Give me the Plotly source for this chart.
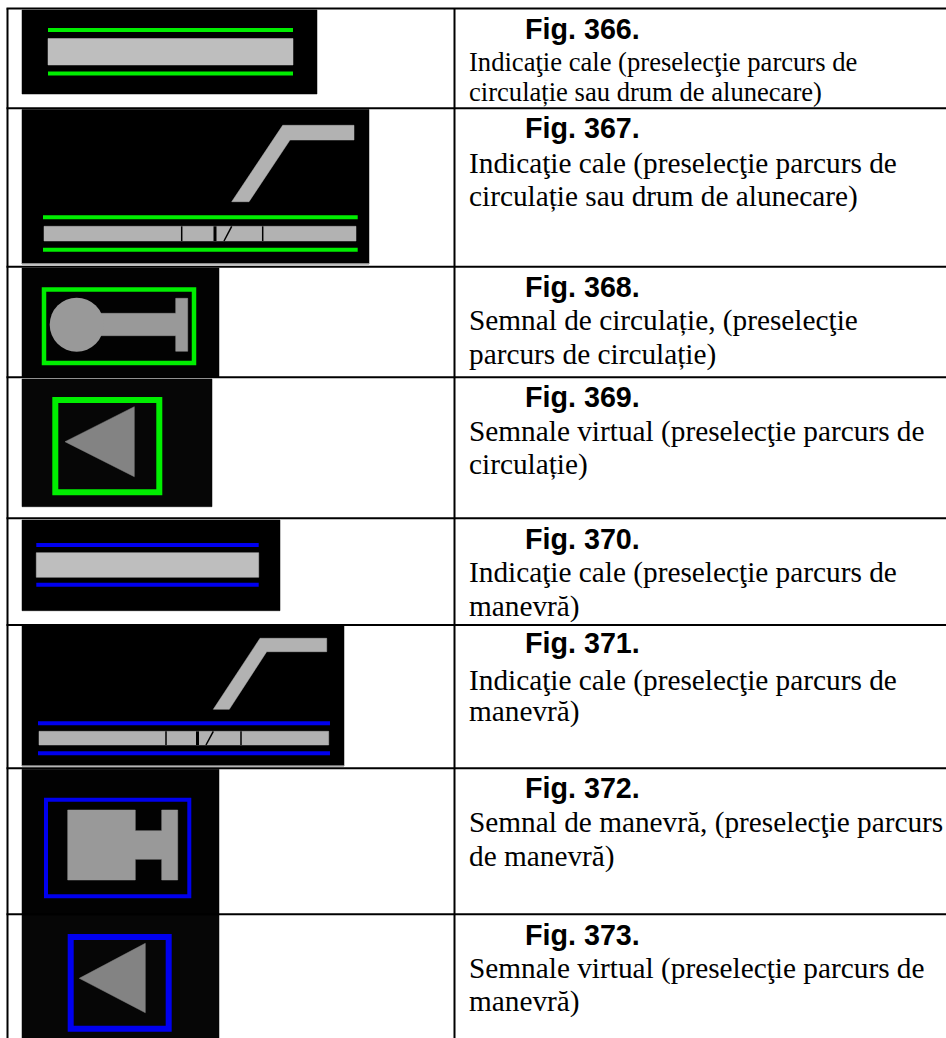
import plotly.graph_objects as go

W, H = 946, 1038
BLACK, GREEN, BLUE = "#000000", "#00ee00", "#0000ee"
L_GRAY, M_GRAY, D_GRAY, S_GRAY = "#bebebe", "#999999", "#838383", "#b2b2b2"

# ---- table rules (page pixel coordinates) ----
table_vlines_x = [7.5, 454.5]
table_hlines_y = [8.5, 108.3, 266.7, 377.3, 518.3, 625, 768.3, 914.3]

# ---- captions ----
fig_titles = ["Fig. 366.", "Fig. 367.", "Fig. 368.", "Fig. 369.", "Fig. 370.", "Fig. 371.", "Fig. 372.", "Fig. 373."]
fig_title_base = [39, 138, 297.3, 407.3, 549.3, 653.3, 798.3, 945]
captions = [
    ["Indicaţie cale (preselecţie parcurs de", "circulație sau drum de alunecare)"],
    ["Indicaţie cale (preselecţie parcurs de", "circulație sau drum de alunecare)"],
    ["Semnal de circulație, (preselecţie", "parcurs de circulație)"],
    ["Semnale virtual (preselecţie parcurs de", "circulație)"],
    ["Indicaţie cale (preselecţie parcurs de", "manevră)"],
    ["Indicaţie cale (preselecţie parcurs de", "manevră)"],
    ["Semnal de manevră, (preselecţie parcurs", "de manevră)"],
    ["Semnale virtual (preselecţie parcurs de", "manevră)"],
]
caption_base = [[70.7, 101], [173, 206], [330.7, 364], [441.7, 474.3], [582.7, 616.7], [690, 721.7], [832.7, 866.7], [978.3, 1011.7]]
caption_size = [26.6, 29.3, 29.3, 29.3, 29.3, 29.3, 29.3, 29.3]

# ---- black picture backgrounds: x0, x1, y0, y1 ----
panel_x0 = [22, 22, 22, 22, 22, 22, 22, 22]
panel_x1 = [317, 369, 219, 212, 280, 344, 219, 219]
panel_y0 = [10, 109.5, 268, 379, 520, 625.7, 769.3, 915]
panel_y1 = [94, 264, 377, 506.7, 610.7, 766, 914, 1038]
panel_col = ["#000000", "#000000", "#020202", "#060606", "#000000", "#000000", "#020202", "#060606"]

# ---- faint scan edge under the two switch pictures ----
edge_x = [[22, 369], [22, 344]]
edge_y = [263.5, 765.7]

# ---- track lines ----
rail_x = [[48, 293], [43, 357.7], [36.3, 258.7], [38, 330]]
rail_y = [[30, 73.5], [217.3, 249.7], [545, 584.7], [723.3, 753.3]]
rail_col = [GREEN, GREEN, BLUE, BLUE]

# ---- plain track bars ----
bar1_x = [48, 293, 293, 48, 48]
bar1_y = [38.5, 38.5, 65, 65, 38.5]
bar5_x = [36.3, 258.7, 258.7, 36.3, 36.3]
bar5_y = [552.7, 552.7, 577.3, 577.3, 552.7]

# ---- switch branches ----
branch2_x = [231.7, 249, 290, 354, 354, 282.7, 231.7]
branch2_y = [201.7, 201.7, 140, 140, 125.3, 125.3, 201.7]
branch6_x = [213.3, 229.3, 266.7, 326.7, 326.7, 260, 213.3]
branch6_y = [709.3, 709.3, 651.7, 651.7, 638.3, 638.3, 709.3]

# ---- segmented strips ----
strip2_x = [44, 356, 356, 44, 44]
strip2_y = [226.3, 226.3, 241, 241, 226.3]
strip2_div = [181.7, 215, 262.7]
strip2_div_w = [1.5, 3, 1.5]
strip2_slash_x = [231.7, 224]
strip2_slash_y = [226.3, 241]
strip6_x = [39, 328.7, 328.7, 39, 39]
strip6_y = [731.3, 731.3, 745, 745, 731.3]
strip6_div = [166, 197.5, 241]
strip6_div_w = [1.5, 3, 1.5]
strip6_slash_x = [213.3, 206]
strip6_slash_y = [731.3, 745]

# ---- signal frames: centre line of the square ----
frame_x = [[44, 194], [55.3, 159.3], [46, 189.3], [70.7, 168.7]]
frame_y = [[289.5, 363], [400, 492.3], [799.7, 896.3], [937, 1028.7]]
frame_w = [4.5, 6, 4, 6]
frame_col = [GREEN, GREEN, BLUE, BLUE]

# ---- signal symbols ----
sig3_x = [175.7, 175.7, 187.7, 187.7, 175.7, 175.7, 76.7, 76.7, 175.7]
sig3_y = [313.3, 298.3, 298.3, 351.3, 351.3, 335.7, 335.7, 313.3, 313.3]
sig3_circle_x = [76.7]
sig3_circle_y = [324.7]
sig4_x = [65, 134.3, 134.3, 65]
sig4_y = [441.7, 406.7, 476.7, 441.7]
sig7_x = [67.7, 135.3, 135.3, 161.7, 161.7, 177.7, 177.7, 161.7, 161.7, 135.3, 135.3, 67.7, 67.7]
sig7_y = [810, 810, 830.7, 830.7, 810, 810, 880, 880, 859.3, 859.3, 880, 880, 810]
sig8_x = [79.3, 145.3, 145.3, 79.3]
sig8_y = [978.3, 943.3, 1012.7, 978.3]

fig = go.Figure()


def poly(x, y, color):
    fig.add_trace(go.Scatter(x=x, y=y, mode="lines", fill="toself", fillcolor=color,
                             line=dict(color=color, width=0.5), hoverinfo="skip"))


def line(x, y, color, width):
    fig.add_trace(go.Scatter(x=x, y=y, mode="lines", line=dict(color=color, width=width), hoverinfo="skip"))


# panels
for x0, x1, y0, y1, c in zip(panel_x0, panel_x1, panel_y0, panel_y1, panel_col):
    poly([x0, x1, x1, x0, x0], [y0, y0, y1, y1, y0], c)
for xs, y in zip(edge_x, edge_y):
    line(xs, [y, y], "#8a8a8a", 1)

# rails
for xs, ys, c in zip(rail_x, rail_y, rail_col):
    for y in ys:
        line(xs, [y, y], c, 4)

# bars and branches
poly(bar1_x, bar1_y, L_GRAY)
poly(bar5_x, bar5_y, L_GRAY)
poly(branch2_x, branch2_y, S_GRAY)
poly(branch6_x, branch6_y, S_GRAY)
poly(strip2_x, strip2_y, S_GRAY)
poly(strip6_x, strip6_y, S_GRAY)
for d, w in zip(strip2_div, strip2_div_w):
    line([d, d], strip2_y[1:3], BLACK, w)
line(strip2_slash_x, strip2_slash_y, BLACK, 1.5)
for d, w in zip(strip6_div, strip6_div_w):
    line([d, d], strip6_y[1:3], BLACK, w)
line(strip6_slash_x, strip6_slash_y, BLACK, 1.5)

# frames
for xs, ys, w, c in zip(frame_x, frame_y, frame_w, frame_col):
    line([xs[0], xs[1], xs[1], xs[0], xs[0], xs[1]], [ys[0], ys[0], ys[1], ys[1], ys[0], ys[0]], c, w)

# signals
poly(sig3_x, sig3_y, M_GRAY)
fig.add_trace(go.Scatter(x=sig3_circle_x, y=sig3_circle_y, mode="markers", hoverinfo="skip",
                         marker=dict(symbol="circle", size=54, color=M_GRAY, line=dict(width=0))))
poly(sig4_x, sig4_y, D_GRAY)
poly(sig7_x, sig7_y, M_GRAY)
poly(sig8_x, sig8_y, D_GRAY)

# table rules
for y in table_hlines_y:
    line([table_vlines_x[0] - 1, W], [y, y], BLACK, 2)
for x in table_vlines_x:
    line([x, x], [table_hlines_y[0], H], BLACK, 2)

annotations = []
for t, tb, lines, bs, size in zip(fig_titles, fig_title_base, captions, caption_base, caption_size):
    annotations.append(dict(x=523, y=tb - 0.35 * 28.7, text="<b>%s</b>" % t, xref="x", yref="y", showarrow=False,
                            xanchor="left", yanchor="middle",
                            font=dict(family="Liberation Sans", size=28.7, color=BLACK)))
    for s, b in zip(lines, bs):
        annotations.append(dict(x=466.5, y=b - 0.34 * size, text=s, xref="x", yref="y", showarrow=False,
                                xanchor="left", yanchor="middle",
                                font=dict(family="Liberation Serif", size=size, color=BLACK)))

fig.update_layout(
    width=W, height=H, margin=dict(l=0, r=0, t=0, b=0), showlegend=False,
    paper_bgcolor="white", plot_bgcolor="white", annotations=annotations,
    xaxis=dict(range=[0, W], visible=False, fixedrange=True),
    yaxis=dict(range=[H, 0], visible=False, fixedrange=True),
)
fig.write_html("out.html", config=dict(displayModeBar=False),
               post_script="document.body.style.margin='0';document.documentElement.style.overflow='hidden';")
